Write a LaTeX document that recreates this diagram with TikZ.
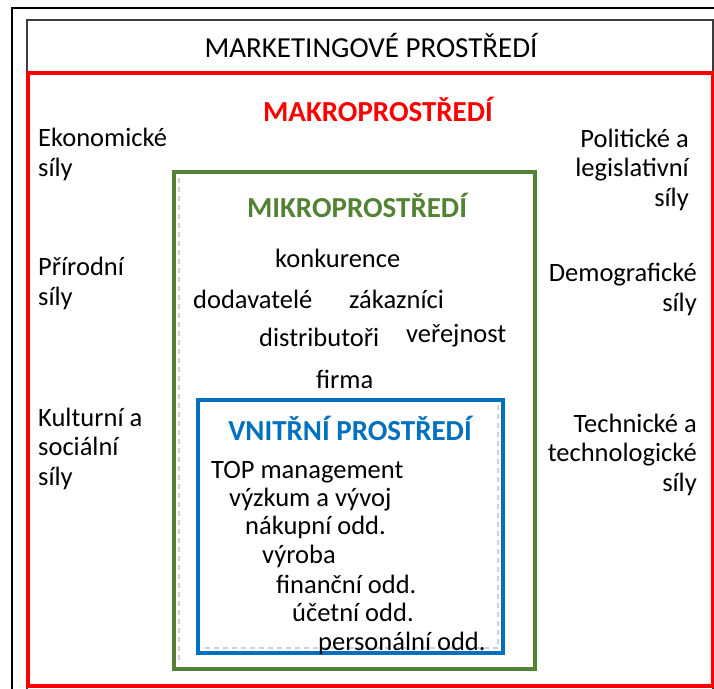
\documentclass[tikz,border=0pt]{standalone}
\usepackage{fontspec}
\setmainfont{Carlito}
\definecolor{macrored}{RGB}{255,0,0}
\definecolor{microgreen}{RGB}{84,130,53}
\definecolor{innerblue}{RGB}{0,112,192}
\definecolor{framegray}{RGB}{60,60,60}
\tikzset{
  txt/.style={inner sep=0pt, font=\fontsize{26.5}{29.5}\selectfont, text=black},
  head/.style={inner sep=0pt, font=\bfseries\fontsize{29}{32}\selectfont},
  box/.style={line width=4pt},
  ghost/.style={draw=black!18, line width=1.2pt, dash pattern=on 5pt off 4pt},
}
\begin{document}
\begin{tikzpicture}[x=1pt,y=-1pt]
\useasboundingbox (0,0) rectangle (714,688);
\fill[white] (0,0) rectangle (714,688);

% outer frames
\draw[black, line width=1.6pt] (12,700) -- (12,8) -- (730,8);
\draw[framegray, line width=1.6pt] (27,700) -- (27,20) -- (713,20) -- (713,700);

% title
\node[inner sep=0pt, anchor=base, font=\fontsize{29}{32}\selectfont] (title) at (371,57) {MARKETINGOVÉ PROSTŘEDÍ};

% macro environment (multi-line nodes: base = last line)
\draw[macrored, box] (28,73) rectangle (713,686);
\node[head, text=macrored, anchor=base] (makro) at (378,121) {MAKROPROSTŘEDÍ};

\node[txt, anchor=base west, align=left] (eko) at (38,176) {Ekonomické\\síly};
\node[txt, anchor=base west, align=left] (prir) at (38,305) {Přírodní\\síly};
\node[txt, anchor=base west, align=left] (kult) at (38,485) {Kulturní a\\sociální\\síly};
\node[txt, anchor=base east, align=right] (polit) at (689,206) {Politické a\\legislativní\\síly};
\node[txt, anchor=base east, align=right] (demo) at (697,311) {Demografické\\síly};
\node[txt, anchor=base east, align=right] (tech) at (697,491) {Technické a\\technologické\\síly};

% micro environment
\draw[ghost] (179,178) -- (179,664);
\draw[microgreen, box] (174,172) rectangle (535,669);
\node[head, text=microgreen, anchor=base] (mikro) at (357,217) {MIKROPROSTŘEDÍ};
\node[txt, anchor=base west] (konk) at (275,267) {konkurence};
\node[txt, anchor=base west] (dod) at (193,308) {dodavatelé};
\node[txt, anchor=base west] (zak) at (349,308) {zákazníci};
\node[txt, anchor=base west] (dist) at (259,346) {distributoři};
\node[txt, anchor=base west] (ver) at (406,342) {veřejnost};
\node[txt, anchor=base west] (firma) at (316,388) {firma};

% internal environment
\draw[ghost] (205,648) -- (498,648) (498,405) -- (498,648);
\draw[innerblue, box] (198,400) rectangle (503,653);
\node[head, text=innerblue, anchor=base] (vnitr) at (350,440) {VNITŘNÍ PROSTŘEDÍ};
\node[txt, anchor=base west] (top) at (211,478) {TOP management};
\node[txt, anchor=base west] (vyzk) at (229,506) {výzkum a vývoj};
\node[txt, anchor=base west] (nak) at (245,534) {nákupní odd.};
\node[txt, anchor=base west] (vyr) at (262,563) {výroba};
\node[txt, anchor=base west] (fin) at (276,593) {finanční odd.};
\node[txt, anchor=base west] (uct) at (292,621) {účetní odd.};
\node[txt, anchor=base west] (pers) at (318,650) {personální odd.};
\end{tikzpicture}
\end{document}
